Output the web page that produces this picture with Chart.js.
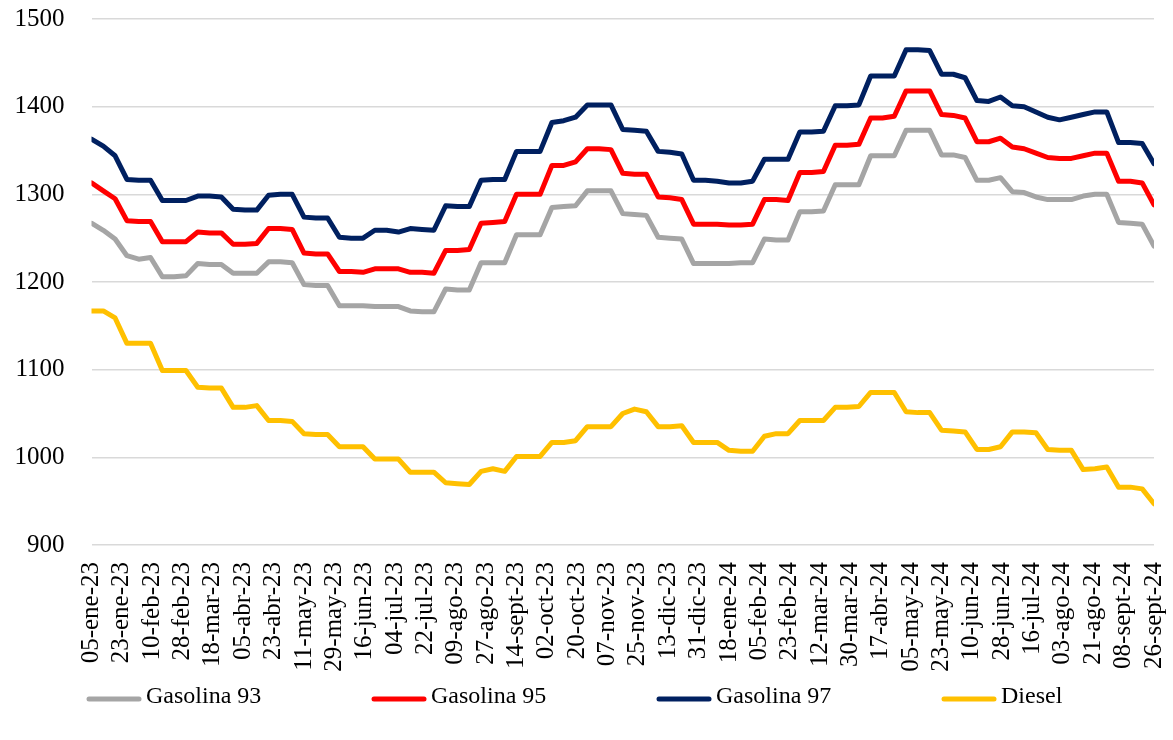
<!DOCTYPE html>
<html>
<head>
<meta charset="utf-8">
<script src="https://cdn.jsdelivr.net/npm/chart.js@4.4.1/dist/chart.umd.min.js"></script>
<style>
html,body{margin:0;padding:0;background:#ffffff;}
#wrap{width:1173px;height:740px;position:relative;}
</style>
</head>
<body>
<div id="wrap"><canvas id="chart"></canvas></div>
<script>
// Weekly observations starting 05-ene-23 (one point every 7 days)
const weekStepDays = 7;
const tickStepDays = 18;
const tickLabels = ['05-ene-23','23-ene-23','10-feb-23','28-feb-23','18-mar-23','05-abr-23','23-abr-23','11-may-23','29-may-23','16-jun-23','04-jul-23','22-jul-23','09-ago-23','27-ago-23','14-sept-23','02-oct-23','20-oct-23','07-nov-23','25-nov-23','13-dic-23','31-dic-23','18-ene-24','05-feb-24','23-feb-24','12-mar-24','30-mar-24','17-abr-24','05-may-24','23-may-24','10-jun-24','28-jun-24','16-jul-24','03-ago-24','21-ago-24','08-sept-24','26-sept-24'];

const seriesNames = ['Gasolina 93','Gasolina 95','Gasolina 97','Diesel'];

const gasolina93 = [1267,1259,1249,1230,1226,1228,1206,1206,1207,1221,1220,1220,1210,1210,1210,1223,1223,1222,1197,1196,1196,1173,1173,1173,1172,1172,1172,1167,1166,1166,1192,1191,1191,1222,1222,1222,1254,1254,1254,1285,1286,1287,1304,1304,1304,1278,1277,1276,1251,1250,1249,1221,1221,1221,1221,1222,1222,1249,1248,1248,1280,1280,1281,1311,1311,1311,1344,1344,1344,1373,1373,1373,1345,1345,1342,1316,1316,1319,1303,1302,1297,1294,1294,1294,1298,1300,1300,1268,1267,1266,1241];

const gasolina95 = [1313,1304,1295,1270,1269,1269,1246,1246,1246,1257,1256,1256,1243,1243,1244,1261,1261,1260,1233,1232,1232,1212,1212,1211,1215,1215,1215,1211,1211,1210,1236,1236,1237,1267,1268,1269,1300,1300,1300,1333,1333,1337,1352,1352,1351,1324,1323,1323,1297,1296,1294,1266,1266,1266,1265,1265,1266,1294,1294,1293,1325,1325,1326,1356,1356,1357,1387,1387,1389,1418,1418,1418,1391,1390,1387,1360,1360,1364,1354,1352,1347,1342,1341,1341,1344,1347,1347,1315,1315,1313,1288];

const gasolina97 = [1363,1355,1344,1317,1316,1316,1293,1293,1293,1298,1298,1297,1283,1282,1282,1299,1300,1300,1274,1273,1273,1251,1250,1250,1259,1259,1257,1261,1260,1259,1287,1286,1286,1316,1317,1317,1349,1349,1349,1382,1384,1388,1402,1402,1402,1374,1373,1372,1349,1348,1346,1316,1316,1315,1313,1313,1315,1340,1340,1340,1371,1371,1372,1401,1401,1402,1435,1435,1435,1465,1465,1464,1437,1437,1433,1407,1406,1411,1401,1400,1394,1388,1385,1388,1391,1394,1394,1359,1359,1358,1335];

const diesel = [1167,1167,1159,1130,1130,1130,1099,1099,1099,1080,1079,1079,1057,1057,1059,1042,1042,1041,1027,1026,1026,1012,1012,1012,998,998,998,983,983,983,971,970,969,984,987,984,1001,1001,1001,1017,1017,1019,1035,1035,1035,1050,1055,1052,1035,1035,1036,1017,1017,1017,1008,1007,1007,1024,1027,1027,1042,1042,1042,1057,1057,1058,1074,1074,1074,1052,1051,1051,1031,1030,1029,1009,1009,1012,1029,1029,1028,1009,1008,1008,986,987,989,966,966,964,947];

const yTicks = [900,1000,1100,1200,1300,1400,1500];

const seriesValues = [gasolina93, gasolina95, gasolina97, diesel];
const seriesColors = ['#A5A5A5','#FF0000','#002060','#FFC000'];

const FONT = "'Liberation Serif', 'DejaVu Serif', serif";

function toPoints(values){
  return values.map((v,i)=>({x:i*weekStepDays, y:v}));
}

const datasets = seriesNames.map((name,k)=>({
  label: name,
  data: toPoints(seriesValues[k]),
  borderColor: seriesColors[k],
  backgroundColor: seriesColors[k],
  borderWidth: 5,
  pointRadius: 0,
  pointHoverRadius: 0,
  tension: 0,
  borderJoinStyle: 'round',
  borderCapStyle: 'round',
  fill: false
}));

const slotLegend = {
  id: 'slotLegend',
  afterDraw(chart, args, opts){
    const ctx = chart.ctx;
    ctx.save();
    ctx.font = opts.fontSize + 'px ' + FONT;
    ctx.textBaseline = 'middle';
    ctx.textAlign = 'left';
    chart.data.datasets.forEach((ds,k)=>{
      const x = opts.x0 + k*opts.step;
      ctx.strokeStyle = ds.borderColor;
      ctx.lineWidth = 5;
      ctx.lineCap = 'round';
      ctx.beginPath();
      ctx.moveTo(x + 3, opts.y + 2);
      ctx.lineTo(x + opts.len - 3, opts.y + 2);
      ctx.stroke();
      ctx.fillStyle = '#000000';
      ctx.fillText(ds.label, x + opts.len + 4, opts.y);
    });
    ctx.restore();
  }
};

new Chart(document.getElementById('chart'), {
  type: 'line',
  data: { datasets },
  plugins: [slotLegend],
  options: {
    responsive: true,
    maintainAspectRatio: false,
    animation: false,
    layout: { padding: { top: 19, right: 19, bottom: 58, left: 10 } },
    plugins: {
      legend: { display: false },
      tooltip: { enabled: false },
      slotLegend: { x0: 86, step: 285, y: 697, len: 56, fontSize: 24 }
    },
    scales: {
      x: {
        type: 'linear',
        min: 0,
        max: (tickLabels.length - 1) * tickStepDays,
        grid: { display: false, drawTicks: false },
        border: { display: false },
        afterBuildTicks(axis){
          axis.ticks = tickLabels.map((_,i)=>({value: i*tickStepDays}));
        },
        afterFit(axis){
          axis.height = 137;
          axis.paddingLeft = 0;
          axis.paddingRight = 0;
        },
        ticks: {
          autoSkip: false,
          maxRotation: 90,
          minRotation: 90,
          padding: 17,
          color: '#000000',
          font: { family: FONT, size: 25 },
          callback: (v)=> tickLabels[Math.round(v / tickStepDays)]
        }
      },
      y: {
        min: yTicks[0],
        max: yTicks[yTicks.length-1],
        afterBuildTicks(axis){
          axis.ticks = yTicks.map(v=>({value:v}));
        },
        afterFit(axis){
          axis.width = 81.5;
          axis.paddingTop = 0;
          axis.paddingBottom = 0;
        },
        grid: { color: '#D9D9D9', lineWidth: 1.5, drawTicks: false },
        border: { display: false },
        ticks: {
          padding: 27,
          color: '#000000',
          font: { family: FONT, size: 25 },
          callback: (v)=> String(v)
        }
      }
    }
  }
});
</script>
</body>
</html>
